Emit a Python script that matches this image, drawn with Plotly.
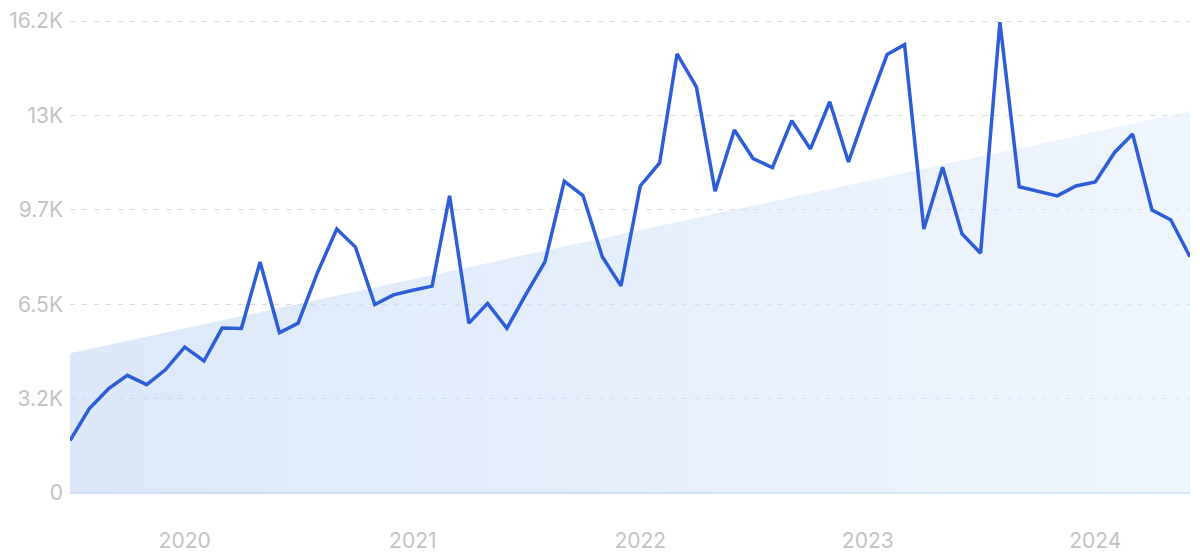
import plotly.graph_objects as go
import pandas as pd

# Monthly data, Jul 2019 - Jun 2024
months = pd.date_range("2019-07-01", "2024-06-01", freq="MS").strftime("%Y-%m-%d").tolist()
values = [
    1800, 2900, 3580, 4040, 3720, 4230, 5010, 4530, 5660, 5650,
    7930, 5500, 5830, 7560, 9060, 8440, 6470, 6800, 6960, 7100,
    10200, 5830, 6510, 5650, 6800, 7930, 10700, 10210, 8110, 7110,
    10540, 11330, 15070, 13940, 10360, 12460, 11480, 11170, 12780, 11810,
    13430, 11360, 13260, 15050, 15390, 9060, 11180, 8900, 8230, 16160,
    10510, 10360, 10200, 10540, 10680, 11690, 12320, 9710, 9380, 8110,
]

# Trend band endpoints
trend_x = [months[0], months[-1]]
trend_y = [4800, 13100]

y_tickvals = [0, 3240, 6480, 9720, 12960, 16200]
y_ticktext = ["0", "3.2K", "6.5K", "9.7K", "13K", "16.2K"]
x_tickvals = ["2020-01-01", "2021-01-01", "2022-01-01", "2023-01-01", "2024-01-01"]
x_ticktext = ["2020", "2021", "2022", "2023", "2024"]

fig = go.Figure()
fig.add_trace(go.Scatter(
    x=trend_x, y=trend_y, mode="lines", fill="tozeroy",
    line=dict(width=0, color="rgba(0,0,0,0)"),
    fillgradient=dict(type="horizontal",
                      colorscale=[[0, "rgba(191,213,246,0.55)"],
                                  [1, "rgba(226,237,251,0.55)"]]),
    hoverinfo="skip", showlegend=False,
))
fig.add_trace(go.Scatter(
    x=months, y=values, mode="lines",
    line=dict(color="#2e5ed7", width=3.5),
    showlegend=False,
))

# page body has an 8px default margin, so the figure is sized to fit
fig.update_layout(
    width=1192, height=546,
    margin=dict(l=62, r=10, t=12, b=61),
    paper_bgcolor="white", plot_bgcolor="white",
    font=dict(family="Inter, Roboto, sans-serif", size=21, color="#c2c2c6"),
)
fig.update_xaxes(
    type="date", range=[months[0], months[-1]],
    tickvals=x_tickvals, ticktext=x_ticktext,
    showgrid=False, zeroline=False, showline=False, ticks="",
    ticklabelstandoff=33, automargin=False,
)
fig.update_yaxes(
    range=[0, 16235], tickvals=y_tickvals, ticktext=y_ticktext,
    showgrid=True, gridcolor="#d2dcec", griddash="5px,7px", gridwidth=1,
    zeroline=True, zerolinecolor="#d6e3f4", zerolinewidth=2,
    showline=False, ticks="", ticklabelstandoff=6, automargin=False,
)

fig.write_html("out.html")
